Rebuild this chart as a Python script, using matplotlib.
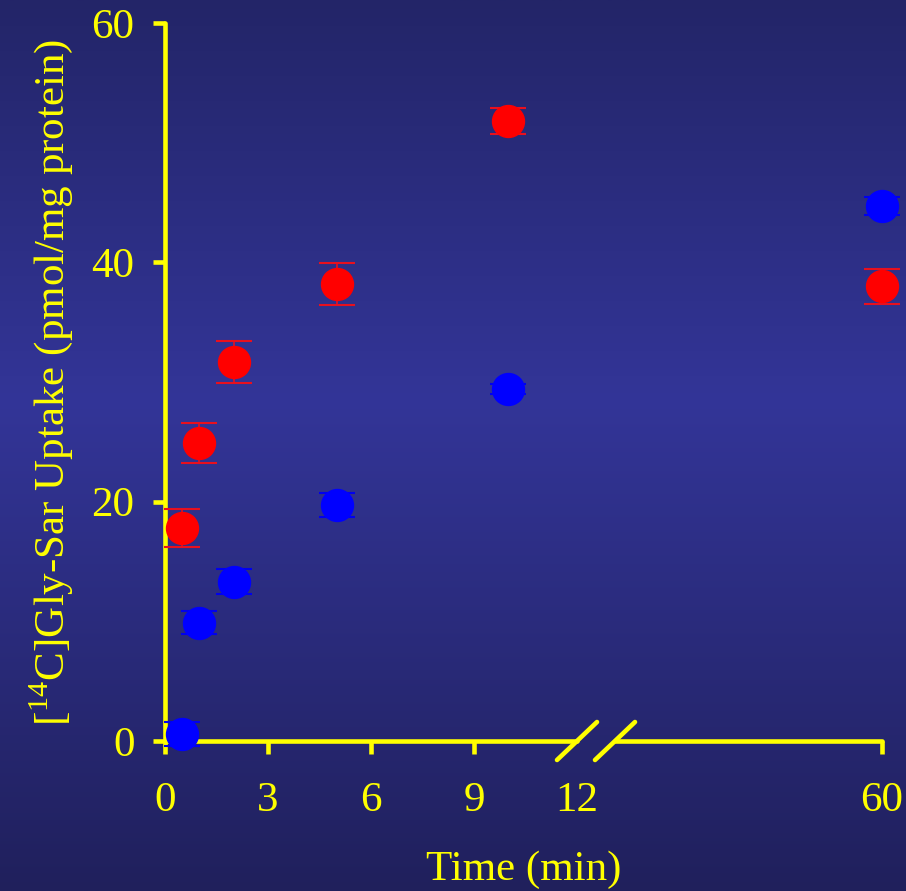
import numpy as np
import matplotlib.pyplot as plt

plt.rcParams['font.family'] = ['Liberation Serif', 'DejaVu Serif']
plt.rcParams['mathtext.fontset'] = 'custom'
plt.rcParams['mathtext.rm'] = 'Liberation Serif'

# data (time in min, uptake in pmol/mg protein)
time_red = [0.5, 1, 2, 5, 10, 60]
uptake_red = [17.8, 24.9, 31.7, 38.2, 51.8, 38.0]
err_red = [1.55, 1.7, 1.75, 1.75, 1.1, 1.45]

time_blue = [0.5, 1, 2, 5, 10, 60]
uptake_blue = [0.6, 9.9, 13.3, 19.7, 29.4, 44.7]
err_blue = [1.0, 0.95, 1.05, 1.0, 0.4, 0.75]

xticks_left = [0, 3, 6, 9, 12]
xticks_right = [60]
yticks = [0, 20, 40, 60]

YEL = '#ffff00'
W, H = 906, 891

fig = plt.figure(figsize=(W / 100, H / 100), dpi=100)

# background gradient (dark at top/bottom, lighter in the middle)
bg = fig.add_axes([0, 0, 1, 1], zorder=-10)
stops = np.array([0.0, 0.45, 1.0])
cols = np.array([[35, 37, 104], [51, 53, 152], [32, 32, 92]]) / 255
t = np.linspace(0, 1, 400)
grad = np.stack([np.interp(t, stops, cols[:, i]) for i in range(3)], axis=1)
bg.imshow(grad[:, None, :], aspect='auto', extent=[0, 1, 0, 1])
bg.axis('off')

x0, x12, x2l, x60 = 165, 577, 615, 882
ybot, ytop = 741, 23
ax1 = fig.add_axes([x0 / W, (H - ybot) / H, (x12 - x0) / W, (ybot - ytop) / H])
ax2 = fig.add_axes([x2l / W, (H - ybot) / H, (x60 - x2l) / W, (ybot - ytop) / H])

px_per_min = (x12 - x0) / 12
ax1.set_xlim(0, 12)
ax2.set_xlim(60 - (x60 - x2l) / px_per_min, 60)

for ax in (ax1, ax2):
    ax.set_facecolor('none')
    ax.set_ylim(0, 60)
    for s in ('top', 'right'):
        ax.spines[s].set_visible(False)
    for s in ('left', 'bottom'):
        ax.spines[s].set_color(YEL)
        ax.spines[s].set_linewidth(3.3)
        ax.spines[s].set_capstyle('round')
    ax.tick_params(colors=YEL, width=3.3, length=9, labelsize=31, direction='out')
    ax.tick_params(axis='x', pad=20)
    ax.tick_params(axis='y', pad=13)
    ax.errorbar(time_red, uptake_red, yerr=err_red, fmt='o', color='#ff0000',
                ecolor='#e8101e', ms=23, elinewidth=1.2, capsize=13, capthick=1.5,
                clip_on=False, zorder=5)
    ax.errorbar(time_blue, uptake_blue, yerr=err_blue, fmt='o', color='#0000ff',
                ecolor='#0000ee', ms=23, elinewidth=1.2, capsize=13, capthick=1.5,
                clip_on=False, zorder=5)

ax1.set_xticks(xticks_left)
ax1.set_xticklabels([str(v) for v in xticks_left])
ax1.xaxis.get_major_ticks()[-1].tick1line.set_visible(False)
ax1.set_yticks(yticks)
ax1.set_yticklabels([str(v) for v in yticks])
for lab in ax1.get_xticklabels() + ax1.get_yticklabels():
    lab.set_color(YEL)

ax2.spines['left'].set_visible(False)
ax2.set_yticks([])
ax2.set_xticks(xticks_right)
ax2.set_xticklabels([str(v) for v in xticks_right], color=YEL)

# break marks
dx1, dy1 = 20 / (x12 - x0), 19 / (ybot - ytop)
ax1.plot([1 - dx1, 1 + dx1], [-dy1, dy1], transform=ax1.transAxes, color=YEL,
         lw=3.3, solid_capstyle='round', clip_on=False, zorder=6)
dx2 = 20 / (x60 - x2l)
ax2.plot([-dx2, dx2], [-dy1, dy1], transform=ax2.transAxes, color=YEL,
         lw=3.3, solid_capstyle='round', clip_on=False, zorder=6)

ax1.set_ylabel(r'[$^{\mathrm{14}}$C]Gly-Sar Uptake (pmol/mg protein)',
               color=YEL, fontsize=31, labelpad=12)
fig.text((x0 + x60) / 2 / W, 1 - 870 / H, 'Time (min)', color=YEL,
         fontsize=31, ha='center', va='center')

fig.savefig('out.png', dpi=100)
